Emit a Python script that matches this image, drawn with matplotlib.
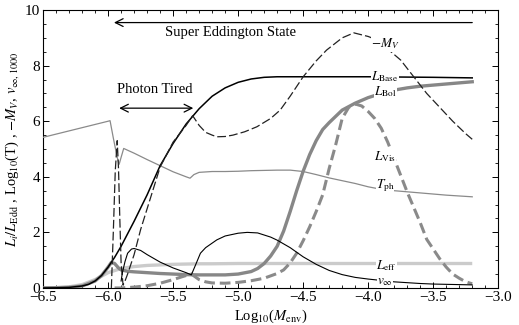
import matplotlib
matplotlib.use("Agg")
import matplotlib.pyplot as plt
from matplotlib.ticker import MultipleLocator, FuncFormatter

plt.rcParams['font.family'] = ['Liberation Serif', 'DejaVu Serif']
plt.rcParams['mathtext.fontset'] = 'stix'

# ---- data ----
base_x = [-6.5,-6.4,-6.3,-6.2,-6.15,-6.1,-6.05,-6.0,-5.95,-5.9,-5.8,-5.7,-5.6,-5.5,-5.4,-5.3,-5.2,-5.1,-5.0,-4.9,-4.8,-4.7,-4.5,-4.0,-3.5,-3.2]
base_y = [0.0,0.005,0.02,0.07,0.13,0.25,0.45,0.75,1.1,1.5,2.4,3.35,4.4,5.2,5.9,6.45,6.9,7.2,7.4,7.52,7.58,7.6,7.6,7.6,7.58,7.56]

mv_x = [-5.975,-5.96,-5.945,-5.93,-5.92,-5.91,-5.9,-5.885,-5.87,-5.85,-5.8,-5.75,-5.7,-5.6,-5.5,-5.4,-5.35,-5.3,-5.25,-5.2,-5.164,-5.1,-5.04,-4.95,-4.856,-4.75,-4.677,-4.6,-4.5,-4.4,-4.32,-4.2,-4.11,-4.0,-3.93,-3.85,-3.75,-3.65,-3.55,-3.45,-3.35,-3.25,-3.2]
mv_y = [0.0,2.0,4.2,5.3,4.3,2.5,0.9,0.1,0.25,0.5,1.2,2.1,2.85,4.35,5.25,5.85,6.2,5.85,5.6,5.5,5.44,5.45,5.5,5.62,5.8,6.1,6.4,6.9,7.6,8.17,8.56,9.0,9.18,9.05,8.92,8.6,8.2,7.6,7.0,6.5,6.0,5.55,5.35]

vinf_x = [-5.9,-5.89,-5.87,-5.85,-5.82,-5.8,-5.75,-5.7,-5.6,-5.5,-5.4,-5.36,-5.33,-5.29,-5.25,-5.164,-5.1,-5.0,-4.93,-4.85,-4.75,-4.7,-4.6,-4.5,-4.4,-4.3,-4.2,-4.1,-4.0,-3.9,-3.8,-3.7,-3.6,-3.5,-3.4,-3.3,-3.2]
vinf_y = [0.25,0.55,0.95,1.25,1.4,1.42,1.35,1.2,0.93,0.72,0.55,0.47,0.8,1.25,1.45,1.73,1.87,1.97,2.0,1.98,1.83,1.72,1.45,1.12,0.85,0.63,0.48,0.38,0.32,0.27,0.22,0.19,0.16,0.14,0.13,0.12,0.11]

bol_x = [-6.5,-6.3,-6.2,-6.1,-6.05,-6.0,-5.975,-5.95,-5.92,-5.9,-5.85,-5.8,-5.7,-5.6,-5.5,-5.4,-5.3,-5.2,-5.1,-5.0,-4.9,-4.85,-4.8,-4.75,-4.7,-4.65,-4.6,-4.55,-4.5,-4.45,-4.4,-4.35,-4.3,-4.2,-4.1,-4.0,-3.9,-3.8,-3.7,-3.6,-3.5,-3.4,-3.3,-3.2]
bol_y = [0.0,0.02,0.07,0.25,0.45,0.75,0.92,0.88,0.72,0.65,0.6,0.58,0.55,0.52,0.5,0.48,0.47,0.47,0.47,0.5,0.59,0.7,0.88,1.15,1.5,2.05,2.75,3.5,4.2,4.8,5.3,5.7,5.95,6.4,6.65,6.85,7.0,7.12,7.2,7.26,7.3,7.34,7.38,7.42]

eff_x = [-6.5,-6.4,-6.3,-6.2,-6.1,-6.0,-5.9,-5.8,-5.7,-5.6,-5.5,-5.4,-5.3,-5.2,-5.0,-4.5,-4.0,-3.5,-3.2]
eff_y = [0.0,0.01,0.04,0.12,0.3,0.55,0.7,0.77,0.81,0.83,0.85,0.86,0.87,0.87,0.88,0.88,0.88,0.88,0.88]

vis_x = [-5.95,-5.9,-5.8,-5.7,-5.6,-5.5,-5.42,-5.36,-5.3,-5.25,-5.2,-5.1,-5.0,-4.9,-4.8,-4.7,-4.65,-4.6,-4.55,-4.5,-4.45,-4.4,-4.35,-4.3,-4.25,-4.2,-4.15,-4.1,-4.05,-4.0,-3.95,-3.9,-3.85,-3.8,-3.75,-3.7,-3.65,-3.6,-3.55,-3.5,-3.45,-3.4,-3.35,-3.3,-3.25,-3.2]
vis_y = [0.0,0.0,0.03,0.08,0.17,0.3,0.42,0.5,0.3,0.22,0.18,0.17,0.2,0.26,0.35,0.52,0.65,0.9,1.25,1.7,2.2,2.75,3.35,4.3,5.15,6.1,6.5,6.62,6.55,6.35,6.1,5.75,5.25,4.65,4.05,3.45,2.9,2.35,1.75,1.4,1.05,0.75,0.5,0.35,0.22,0.15]

tph_x = [-6.5,-6.0,-5.985,-5.96,-5.93,-5.915,-5.9,-5.88,-5.8,-5.7,-5.6,-5.5,-5.4,-5.37,-5.34,-5.3,-5.2,-5.1,-5.0,-4.9,-4.8,-4.7,-4.6,-4.5,-4.4,-4.3,-4.2,-4.1,-4.0,-3.9,-3.8,-3.7,-3.6,-3.5,-3.4,-3.3,-3.2]
tph_y = [5.42,6.0,6.02,5.4,4.7,4.45,4.7,5.02,4.85,4.62,4.4,4.18,4.0,3.95,4.08,4.16,4.19,4.19,4.2,4.22,4.23,4.24,4.24,4.19,4.08,3.96,3.86,3.76,3.64,3.55,3.5,3.46,3.42,3.38,3.34,3.31,3.28]

curve_labels = [r'$-M_V$', r'$L_{\rm Base}$', r'$L_{\rm Bol}$', r'$L_{\rm Vis}$', r'$T_{\rm ph}$', r'$L_{\rm eff}$', r'$v_{\infty}$']
label_x = [-3.87, -3.87, -3.87, -3.87, -3.87, -3.86, -3.87]
label_y = [8.78, 7.62, 7.07, 4.71, 3.67, 0.79, 0.22]

# ---- figure ----
fig = plt.figure(figsize=(5.19, 3.25), dpi=100)
ax = fig.add_axes([0.083, 0.114, 0.877, 0.855])

ax.plot(eff_x, eff_y, color='#cbcbcb', lw=2.4, solid_capstyle='butt', zorder=2)
ax.plot(bol_x, bol_y, color='#878787', lw=2.4, zorder=3)
ax.plot(vis_x, vis_y, color='#8a8a8a', lw=2.2, dashes=(3.5, 1.6), zorder=3)
ax.plot(tph_x, tph_y, color='#8a8a8a', lw=0.9, zorder=3)
ax.plot(base_x, base_y, color='black', lw=1.1, zorder=4)
ax.plot(mv_x, mv_y, color='#222222', lw=0.9, dashes=(7, 2.5), zorder=4)
ax.plot(vinf_x, vinf_y, color='black', lw=0.8, zorder=4)

for t, lx, ly in zip(curve_labels, label_x, label_y):
    ax.text(lx, ly, t, fontsize=9.5, ha='center', va='center', zorder=6,
            bbox=dict(facecolor='white', edgecolor='none', pad=0.1))

# annotations
ax.annotate('', xy=(-5.955, 9.55), xytext=(-3.2, 9.55),
            arrowprops=dict(arrowstyle='->', lw=0.9, color='black',
                            shrinkA=0, shrinkB=0, mutation_scale=14))
ax.text(-5.06, 9.18, 'Super Eddington State', fontsize=10.5, ha='center', va='center')
ax.annotate('', xy=(-5.915, 6.47), xytext=(-5.345, 6.47),
            arrowprops=dict(arrowstyle='<->', lw=0.9, color='black',
                            shrinkA=0, shrinkB=0, mutation_scale=14))
ax.text(-5.64, 7.15, 'Photon Tired', fontsize=10.5, ha='center', va='center')

ax.set_xlim(-6.5, -3.0)
ax.set_ylim(0, 10)
ax.xaxis.set_major_locator(MultipleLocator(0.5))
ax.xaxis.set_minor_locator(MultipleLocator(0.1))
ax.yaxis.set_major_locator(MultipleLocator(2))
ax.yaxis.set_minor_locator(MultipleLocator(0.5))
ax.xaxis.set_major_formatter(FuncFormatter(lambda v, p: ('\u2212%.1f' % abs(v)) if v < 0 else '%.1f' % v))
ax.yaxis.set_major_formatter(FuncFormatter(lambda v, p: '%d' % v))
ax.tick_params(which='both', direction='in', top=True, right=True, labelsize=11, pad=2)
ax.tick_params(which='major', length=4, width=0.7)
ax.tick_params(which='minor', length=2, width=0.6)
for s in ax.spines.values():
    s.set_linewidth(0.8)

ax.set_xlabel(r'Log$_{10}$($M_{\rm env}$)', fontsize=10.5, labelpad=3)
ax.set_ylabel(r'$L_i/L_{\rm Edd}$ , Log$_{10}$(T) , $-M_V$, $v_{\infty,1000}$', fontsize=10.5, labelpad=3)

fig.savefig('out.png', dpi=100)
